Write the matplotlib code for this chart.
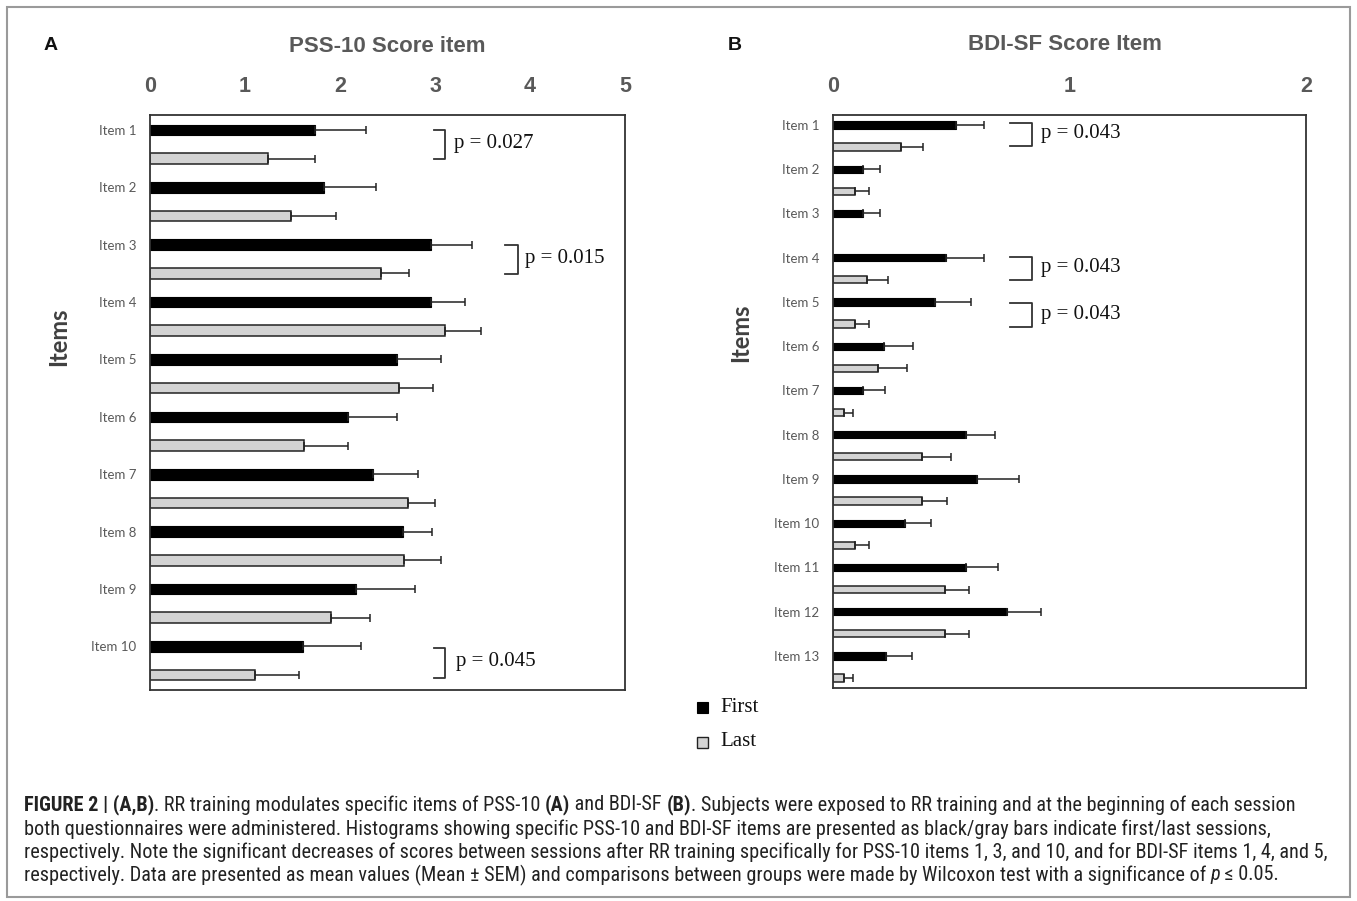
import matplotlib
matplotlib.use("Agg")
import matplotlib.pyplot as plt
import numpy as np
from matplotlib import font_manager
from matplotlib.font_manager import FontProperties
from matplotlib.patches import Rectangle

W, H, DPI = 1357, 901, 100

# ---------------- data ----------------
pss_items = [f"Item {i}" for i in range(1, 11)]
pss_first = [1.74, 1.83, 2.96, 2.96, 2.60, 2.08, 2.35, 2.66, 2.17, 1.61]
pss_first_err = [0.53, 0.55, 0.43, 0.36, 0.46, 0.52, 0.47, 0.31, 0.62, 0.61]
pss_last = [1.24, 1.48, 2.43, 3.10, 2.62, 1.62, 2.72, 2.67, 1.90, 1.10]
pss_last_err = [0.50, 0.48, 0.30, 0.38, 0.36, 0.46, 0.28, 0.39, 0.42, 0.47]

bdi_items = [f"Item {i}" for i in range(1, 14)]
bdi_first = [0.522, 0.128, 0.128, 0.477, 0.432, 0.216, 0.128, 0.563, 0.608, 0.303, 0.563, 0.735, 0.226]
bdi_first_err = [0.116, 0.071, 0.071, 0.161, 0.152, 0.122, 0.091, 0.121, 0.178, 0.112, 0.136, 0.143, 0.106]
bdi_last = [0.287, 0.092, 0.0, 0.143, 0.092, 0.190, 0.045, 0.377, 0.377, 0.092, 0.475, 0.475, 0.045]
bdi_last_err = [0.092, 0.062, 0.0, 0.091, 0.062, 0.121, 0.041, 0.124, 0.103, 0.062, 0.102, 0.102, 0.041]

pss_ticks = [0, 1, 2, 3, 4, 5]
bdi_ticks = [0, 1, 2]
pss_sig_items = [0, 2, 9]
pss_sig_labels = ["p = 0.027", "p = 0.015", "p = 0.045"]
bdi_sig_items = [0, 3, 4]
bdi_sig_labels = ["p = 0.043", "p = 0.043", "p = 0.043"]
legend_labels = ["First", "Last"]

# ---------------- fonts ----------------
def pick(cands):
    for c in cands:
        try:
            font_manager.findfont(FontProperties(family=c), fallback_to_default=False)
            return c
        except Exception:
            continue
    return "DejaVu Sans"

NARROW = pick(["Liberation Sans Narrow", "Roboto Condensed", "Liberation Sans"])
HUMAN = pick(["Lato", "Open Sans", "DejaVu Sans"])
SERIF = pick(["Liberation Serif", "DejaVu Serif"])
ARIAL = pick(["Liberation Sans", "DejaVu Sans"])

BLACK = "#000000"
GRAY = "#d3d3d3"
TXT = "#595959"

fig = plt.figure(figsize=(W / DPI, H / DPI), dpi=DPI)

def fx(px):
    return px / W

def fy(py):
    return 1 - py / H

def panel(rect_px, items, first, ferr, last, lerr, ticks, xmax, margin, bar_h):
    l, t, r, b = rect_px
    ax = fig.add_axes([fx(l), fy(b), fx(r) - fx(l), fy(t) - fy(b)])
    n = len(items)
    pos_f = np.arange(n) * 2
    pos_l = pos_f + 1
    ax.barh(pos_f, first, height=bar_h, color=BLACK, edgecolor=BLACK, linewidth=0.8, zorder=2)
    ax.errorbar(first, pos_f, xerr=[np.zeros(n), ferr], fmt="none", ecolor="#222222",
                elinewidth=1.1, capsize=3.2, capthick=1.1, zorder=3)
    last = np.asarray(last)
    lerr = np.asarray(lerr)
    m = last > 0
    ax.barh(pos_l[m], last[m], height=bar_h, color=GRAY, edgecolor="#222222", linewidth=1.1, zorder=2)
    ax.errorbar(last[m], pos_l[m], xerr=[np.zeros(m.sum()), lerr[m]], fmt="none", ecolor="#222222",
                elinewidth=1.1, capsize=3.2, capthick=1.1, zorder=3)
    ax.set_xlim(0, xmax)
    ax.set_ylim(2 * n - 1 + margin, -margin)
    ax.xaxis.tick_top()
    ax.set_xticks(ticks)
    ax.set_xticklabels([str(v) for v in ticks], fontfamily=ARIAL, fontweight="bold",
                       fontsize=15.5, color=TXT)
    ax.tick_params(axis="x", length=0, pad=13)
    ax.set_yticks(pos_f)
    ax.set_yticklabels(items, fontfamily=HUMAN, fontsize=9.5, color=TXT)
    ax.tick_params(axis="y", length=0, pad=10)
    for s in ax.spines.values():
        s.set_linewidth(1.3)
        s.set_color("#333333")
    return ax

axA = panel((150, 115, 625, 690), pss_items, pss_first, pss_first_err, pss_last, pss_last_err,
            pss_ticks, 5, 0.52, 0.37)
axB = panel((833, 115, 1306, 688), bdi_items, bdi_first, bdi_first_err, bdi_last, bdi_last_err,
            bdi_ticks, 2, 0.45, 0.33)

def bracket(ax, idx, label, x0, x1, tx, y0off, y1off):
    y0 = 2 * idx + y0off
    y1 = 2 * idx + y1off
    ax.plot([x0, x1, x1, x0], [y0, y0, y1, y1], color="#333333", lw=1.3, clip_on=False, zorder=4)
    ax.text(tx, (y0 + y1) / 2 - 0.03, label, fontfamily=SERIF, fontsize=15,
            va="center", ha="left", color="#111111")

bracket(axA, pss_sig_items[0], pss_sig_labels[0], 2.99, 3.10, 3.20, 0.0, 1.0)
bracket(axA, pss_sig_items[1], pss_sig_labels[1], 3.74, 3.87, 3.95, 0.0, 1.02)
bracket(axA, pss_sig_items[2], pss_sig_labels[2], 2.99, 3.10, 3.22, 0.05, 1.09)
bdi_offs = [(-0.1, 0.94), (-0.04, 1.01), (0.06, 1.13)]
for idx, label, (a, b) in zip(bdi_sig_items, bdi_sig_labels, bdi_offs):
    bracket(axB, idx, label, 0.748, 0.84, 0.88, a, b)

# titles and labels
fig.text(fx(387), fy(46), "PSS-10 Score item", fontfamily=ARIAL, fontweight="bold",
         fontsize=16, color=TXT, ha="center", va="center")
fig.text(fx(1065), fy(44), "BDI-SF Score Item", fontfamily=ARIAL, fontweight="bold",
         fontsize=16, color=TXT, ha="center", va="center")
fig.text(fx(44), fy(46), "A", fontfamily=ARIAL, fontweight="bold", fontsize=14,
         color="#111111", ha="left", va="center")
fig.text(fx(728), fy(46), "B", fontfamily=ARIAL, fontweight="bold", fontsize=14,
         color="#111111", ha="left", va="center")
fig.text(fx(59), fy(337), "Items", fontfamily=HUMAN, fontweight="bold", fontsize=17,
         color="#404040", ha="center", va="center", rotation=90)
fig.text(fx(741), fy(333), "Items", fontfamily=HUMAN, fontweight="bold", fontsize=17,
         color="#404040", ha="center", va="center", rotation=90)

# legend
fig.patches.append(Rectangle((fx(697), fy(713)), 11 / W, 11 / H, transform=fig.transFigure,
                             facecolor=BLACK, edgecolor=BLACK, lw=0.8))
fig.patches.append(Rectangle((fx(697), fy(748)), 11 / W, 11 / H, transform=fig.transFigure,
                             facecolor=GRAY, edgecolor="#222222", lw=1.0))
fig.text(fx(720), fy(707), legend_labels[0], fontfamily=SERIF, fontsize=15, color="#111111",
         ha="left", va="center")
fig.text(fx(720), fy(742), legend_labels[1], fontfamily=SERIF, fontsize=15, color="#111111",
         ha="left", va="center")

# outer frame
fig.patches.append(Rectangle((fx(7), fy(897)), (1350 - 7) / W, (897 - 7) / H,
                             transform=fig.transFigure, facecolor="none",
                             edgecolor="#9a9a9a", lw=1.5))

# caption
renderer = fig.canvas.get_renderer()

def measure(s, size, weight="normal", style="normal"):
    t = fig.text(0, 0, "|" + s + "|", fontfamily=NARROW, fontsize=size, fontweight=weight, fontstyle=style)
    w1 = t.get_window_extent(renderer).width
    t.remove()
    t = fig.text(0, 0, "||", fontfamily=NARROW, fontsize=size, fontweight=weight, fontstyle=style)
    w2 = t.get_window_extent(renderer).width
    t.remove()
    return w1 - w2

cap_lines = [
    [("FIGURE 2 | (A,B)", "bold", "normal"),
     (". RR training modulates specific items of PSS-10 ", "normal", "normal"),
     ("(A)", "bold", "normal"), (" and BDI-SF ", "normal", "normal"), ("(B)", "bold", "normal"),
     (". Subjects were exposed to RR training and at the beginning of each session", "normal", "normal")],
    [("both questionnaires were administered. Histograms showing specific PSS-10 and BDI-SF items are presented as black/gray bars indicate first/last sessions,", "normal", "normal")],
    [("respectively. Note the significant decreases of scores between sessions after RR training specifically for PSS-10 items 1, 3, and 10, and for BDI-SF items 1, 4, and 5,", "normal", "normal")],
    [("respectively. Data are presented as mean values (Mean \u00b1 SEM) and comparisons between groups were made by Wilcoxon test with a significance of ", "normal", "normal"),
     ("p", "normal", "italic"), (" \u2264 0.05.", "normal", "normal")],
]
base = 12.0
w_line1 = sum(measure(s, base, wt, st) for s, wt, st in cap_lines[0])
cap_size = base * (1270 / w_line1)
cap_y = [805, 829, 852, 875]
for line, yy in zip(cap_lines, cap_y):
    x = 24.0
    for s, wt, st in line:
        fig.text(fx(x), fy(yy), s, fontfamily=NARROW, fontsize=cap_size, fontweight=wt,
                 fontstyle=st, color="#222222", ha="left", va="center")
        x += measure(s, cap_size, wt, st)

fig.savefig("out.png", dpi=DPI)
